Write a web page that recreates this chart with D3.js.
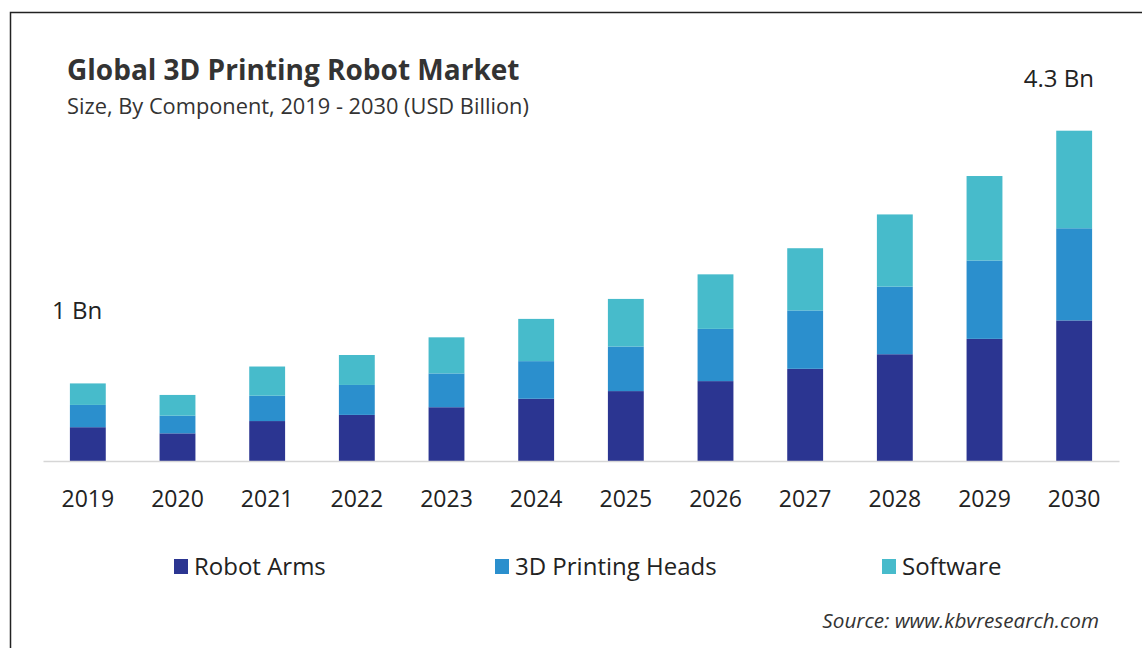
<!DOCTYPE html>
<html>
<head>
<meta charset="utf-8">
<script src="https://cdn.jsdelivr.net/npm/d3@7"></script>
<style>
  html, body { margin: 0; padding: 0; background: #ffffff; }
  svg { display: block; font-family: "Open Sans", "Noto Sans", sans-serif; }
</style>
</head>
<body>
<svg id="chart" width="1142" height="648"></svg>
<script>
// Market size by component, USD billion
const years = ["2019","2020","2021","2022","2023","2024","2025","2026","2027","2028","2029","2030"];
const robotArms      = [0.44, 0.36, 0.52, 0.60, 0.70, 0.81, 0.91, 1.04, 1.20, 1.39, 1.59, 1.83];
const printingHeads  = [0.29, 0.23, 0.33, 0.39, 0.44, 0.49, 0.58, 0.68, 0.76, 0.88, 1.02, 1.20];
const software       = [0.28, 0.27, 0.38, 0.39, 0.47, 0.55, 0.62, 0.71, 0.81, 0.94, 1.10, 1.27];
const seriesNames    = ["Robot Arms", "3D Printing Heads", "Software"];
const seriesKeys     = ["arms", "heads", "software"];
const seriesColors   = ["#2b3591", "#2b8fcd", "#47bbcb"];
const callouts       = ["1 Bn", "4.3 Bn"];

const rows = years.map((y, i) => ({ year: y, arms: robotArms[i], heads: printingHeads[i], software: software[i] }));

const svg = d3.select("#chart");
svg.append("rect").attr("width", 1142).attr("height", 648).attr("fill", "#ffffff");

// frame (left and top edges)
svg.append("path").attr("d", "M10.5,648 V12.5 H1142")
  .attr("fill", "none").attr("stroke", "#222").attr("stroke-width", 1.5);

const x = d3.scaleBand().domain(years).range([43, 1119]).paddingInner(0.6).paddingOuter(0.3);
const y = d3.scaleLinear().domain([0, 4.3]).range([461, 130.7]);
const color = d3.scaleOrdinal().domain(seriesKeys).range(seriesColors);

const stacked = d3.stack().keys(seriesKeys)(rows);

svg.append("g").selectAll("g").data(stacked).join("g")
  .attr("fill", d => color(d.key))
  .selectAll("rect").data(d => d).join("rect")
  .attr("x", d => x(d.data.year))
  .attr("width", x.bandwidth())
  .attr("y", d => y(d[1]))
  .attr("height", d => y(d[0]) - y(d[1]));

// baseline axis with year labels
const axis = svg.append("g").attr("transform", `translate(0,${y(0)})`)
  .call(d3.axisBottom(x).tickSize(0).tickPadding(30));
axis.select(".domain").attr("stroke", "#d6d6d6").attr("stroke-width", 1.5);
axis.selectAll(".tick text")
  .attr("font-family", "'Open Sans', sans-serif")
  .attr("font-size", 23).attr("fill", "#222");

// title block
svg.append("text").attr("x", 67).attr("y", 80)
  .attr("font-family", "'Open Sans', sans-serif").attr("font-weight", 700)
  .attr("font-size", 28).attr("fill", "#333")
  .text("Global 3D Printing Robot Market");
svg.append("text").attr("x", 67).attr("y", 114)
  .attr("font-family", "'Open Sans', sans-serif")
  .attr("font-size", 21.8).attr("fill", "#333")
  .text("Size, By Component,  2019 - 2030 (USD Billion)");

// value callouts
svg.append("text").attr("x", 52).attr("y", 319)
  .attr("font-size", 24).attr("fill", "#222").text(callouts[0]);
svg.append("text").attr("x", 1094).attr("y", 87).attr("text-anchor", "end")
  .attr("font-size", 24).attr("fill", "#222").text(callouts[1]);

// legend
const legendX = [174, 495, 882];
const legend = svg.append("g").selectAll("g").data(seriesKeys).join("g")
  .attr("transform", (d, i) => `translate(${legendX[i]},559)`);
legend.append("rect").attr("width", 14).attr("height", 15).attr("fill", d => color(d));
legend.append("text").attr("x", 20).attr("y", 16)
  .attr("font-size", 24).attr("fill", "#222")
  .text((d, i) => seriesNames[i]);

// source line
svg.append("text").attr("x", 1099).attr("y", 628).attr("text-anchor", "end")
  .attr("font-style", "italic").attr("font-size", 20.7).attr("fill", "#333")
  .text("Source: www.kbvresearch.com");
</script>
</body>
</html>
